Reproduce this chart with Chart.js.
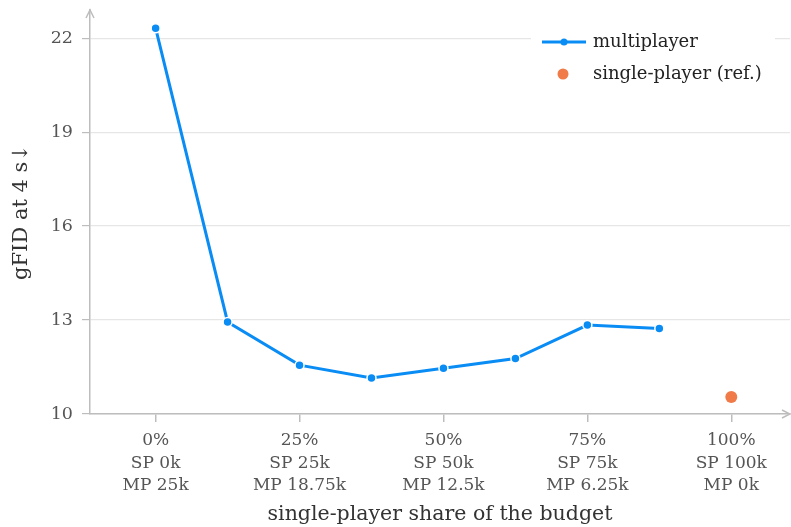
<!DOCTYPE html>
<html>
<head>
<meta charset="utf-8">
<script src="https://cdn.jsdelivr.net/npm/chart.js@4"></script>
<style>
  html, body { margin: 0; padding: 0; background: #fff; }
  #wrap { width: 791px; height: 527px; }
</style>
</head>
<body>
<div id="wrap"><canvas id="chart" width="791" height="527"></canvas></div>
<script>
// Data
const shares = [0, 12.5, 25, 37.5, 50, 62.5, 75, 87.5];
const multiplayerFid = [22.32, 12.94, 11.56, 11.15, 11.46, 11.77, 12.84, 12.73];
const singleShare = [100];
const singleFid = [10.54];

const tickShares = [0, 25, 50, 75, 100];
const tickLabels = [
  ['0%', 'SP 0k', 'MP 25k'],
  ['25%', 'SP 25k', 'MP 18.75k'],
  ['50%', 'SP 50k', 'MP 12.5k'],
  ['75%', 'SP 75k', 'MP 6.25k'],
  ['100%', 'SP 100k', 'MP 0k']
];
const yTicks = [10, 13, 16, 19, 22];

const FONT = '"DejaVu Serif", "Liberation Serif", serif';
const BLUE = '#0a8cf5';
const ORANGE = '#f07a48';
const AXIS = '#bdbdbd';

// axis arrows + legend drawn on top
const decorations = {
  id: 'decorations',
  afterDraw(chart) {
    const ctx = chart.ctx;
    const a = chart.chartArea;
    ctx.save();
    ctx.strokeStyle = AXIS;
    ctx.lineWidth = 1.5;
    // y arrow
    ctx.beginPath();
    ctx.moveTo(a.left - 4, a.top + 8);
    ctx.lineTo(a.left, a.top);
    ctx.lineTo(a.left + 4, a.top + 8);
    ctx.stroke();
    // x arrow
    ctx.beginPath();
    ctx.moveTo(a.right - 8, a.bottom - 4);
    ctx.lineTo(a.right, a.bottom);
    ctx.lineTo(a.right - 8, a.bottom + 4);
    ctx.stroke();

    // legend
    const lx = 531, ly = 26;
    ctx.fillStyle = '#fff';
    ctx.fillRect(lx, ly, 244, 66);
    ctx.strokeStyle = BLUE;
    ctx.lineWidth = 3;
    ctx.beginPath();
    ctx.moveTo(542, 42);
    ctx.lineTo(586, 42);
    ctx.stroke();
    ctx.fillStyle = BLUE;
    ctx.beginPath();
    ctx.arc(564, 42, 3.5, 0, Math.PI * 2);
    ctx.fill();
    ctx.fillStyle = ORANGE;
    ctx.beginPath();
    ctx.arc(563, 74, 5.5, 0, Math.PI * 2);
    ctx.fill();
    ctx.fillStyle = '#222';
    ctx.font = '18px ' + FONT;
    ctx.textBaseline = 'middle';
    ctx.fillText('multiplayer', 593, 42);
    ctx.fillText('single-player (ref.)', 593, 74);
    ctx.restore();
  }
};

new Chart(document.getElementById('chart').getContext('2d'), {
  type: 'line',
  data: {
    datasets: [
      {
        label: 'multiplayer',
        data: shares.map((s, i) => ({ x: s, y: multiplayerFid[i] })),
        borderColor: BLUE,
        backgroundColor: BLUE,
        borderWidth: 3,
        pointRadius: 4.5,
        pointBorderColor: '#fff',
        pointBorderWidth: 1.5,
        tension: 0
      },
      {
        label: 'single-player (ref.)',
        data: singleShare.map((s, i) => ({ x: s, y: singleFid[i] })),
        showLine: false,
        backgroundColor: ORANGE,
        borderColor: ORANGE,
        pointRadius: 6,
        pointBorderWidth: 0
      }
    ]
  },
  options: {
    responsive: false,
    animation: false,
    layout: { autoPadding: false, padding: { top: 10, right: 1, left: 0, bottom: 0 } },
    plugins: {
      legend: { display: false },
      tooltip: { enabled: false }
    },
    scales: {
      x: {
        type: 'linear',
        min: -11.4,
        max: 110.2,
        afterBuildTicks: (axis) => { axis.ticks = tickShares.map(v => ({ value: v })); },
        afterFit: (axis) => {
          axis.height = 113;
          axis.paddingLeft = 0;
          axis.paddingRight = 0;
        },
        border: { color: AXIS, width: 1.5 },
        grid: { drawOnChartArea: false, color: AXIS, tickLength: 8, lineWidth: 1.5 },
        ticks: {
          color: '#555',
          font: { family: FONT, size: 17, lineHeight: 1.3 },
          padding: 8,
          maxRotation: 0,
          callback: (v) => tickLabels[tickShares.indexOf(v)] || ''
        },
        title: {
          display: true,
          text: 'single-player share of the budget',
          color: '#333',
          font: { family: FONT, size: 20.5 },
          padding: { top: 7, bottom: 0 }
        }
      },
      y: {
        min: 10,
        max: 22.9,
        afterBuildTicks: (axis) => { axis.ticks = yTicks.map(v => ({ value: v })); },
        afterFit: (axis) => {
          axis.width = 90;
          axis.paddingTop = 0;
          axis.paddingBottom = 0;
        },
        border: { color: AXIS, width: 1.5 },
        grid: { color: '#e6e6e6', tickColor: AXIS, tickLength: 8, lineWidth: 1.2 },
        ticks: {
          color: '#555',
          font: { family: FONT, size: 17.5 },
          padding: 9
        },
        title: {
          display: true,
          text: 'gFID at 4 s\u2193',
          color: '#333',
          font: { family: FONT, size: 21 },
          padding: { top: 9, bottom: 0 }
        }
      }
    }
  },
  plugins: [decorations]
});
</script>
</body>
</html>
